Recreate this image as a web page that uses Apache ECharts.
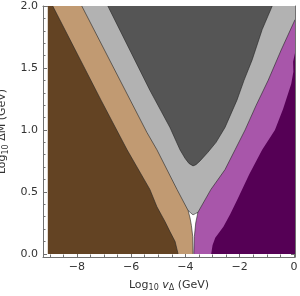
<!DOCTYPE html>
<html>
<head>
<meta charset="utf-8">
<script src="https://cdn.jsdelivr.net/npm/echarts@6/dist/echarts.min.js"></script>
<style>html,body{margin:0;padding:0;background:#fff}#c{width:300px;height:296px}</style>
</head>
<body>
<div id="c"></div>
<script>
// ---- axis ranges & ticks ----
const xRange = [-9.25, 0.04];
const yRange = [-0.025, 2.0];
const regionX = [-9.07, 0.04];
const regionY = [0, 2];
const xMajorTicks = [-8, -6, -4, -2, 0];
const xMinorTicks = [-9, -8.5, -7.5, -7, -6.5, -5.5, -5, -4.5, -3.5, -3, -2.5, -1.5, -1, -0.5];
const yMajorTicks = [0, 0.5, 1, 1.5, 2];
const yMinorTicks = [0.1, 0.2, 0.3, 0.4, 0.6, 0.7, 0.8, 0.9, 1.1, 1.2, 1.3, 1.4, 1.6, 1.7, 1.8, 1.9];

// ---- region boundaries (log10 v, log10 dM) ----
// brown / tan boundary (top -> bottom)
const brownEdge = [[-8.89, 2.0], [-7.11, 1.24], [-6.15, 0.84], [-5.31, 0.52], [-5.05, 0.38], [-4.75, 0.26], [-4.57, 0.18], [-4.38, 0.10], [-4.27, 0.0]];
// tan right boundary (top -> bottom)
const tanEdge = [[-7.82, 2.0], [-5.42, 0.98], [-5.05, 0.84], [-4.31, 0.52], [-3.90, 0.35], [-3.83, 0.29], [-3.78, 0.23], [-3.73, 0.14], [-3.72, 0.0]];
// bottom cusp of the light gray band (left -> right)
const grayCusp = [[-3.90, 0.35], [-3.80, 0.33], [-3.72, 0.315], [-3.63, 0.325], [-3.54, 0.335]];
// light purple left boundary (top right -> bottom)
const purpleEdge = [[0.04, 1.89], [0.0, 1.87], [-0.47, 1.645], [-0.95, 1.40], [-1.39, 1.20], [-1.80, 1.00], [-2.17, 0.84], [-2.54, 0.68], [-3.06, 0.52], [-3.54, 0.335], [-3.62, 0.25], [-3.67, 0.14], [-3.69, 0.0]];
// dark purple left boundary (top right -> bottom)
const darkPurpleEdge = [[0.04, 1.62], [-0.03, 1.55], [-0.02, 1.47], [-0.10, 1.37], [-0.40, 1.17], [-0.70, 1.0], [-1.17, 0.84], [-1.65, 0.64], [-2.08, 0.44], [-2.35, 0.32], [-2.60, 0.22], [-2.90, 0.13], [-3.00, 0.07], [-3.05, 0.0]];
// dark gray V (left arm top -> tip -> right arm top)
const darkGrayEdge = [[-6.86, 2.0], [-5.31, 1.32], [-4.57, 1.02], [-4.20, 0.84], [-4.01, 0.77], [-3.87, 0.73], [-3.72, 0.71], [-3.61, 0.72], [-3.46, 0.75], [-3.17, 0.82], [-2.87, 0.90], [-2.54, 1.02], [-2.10, 1.24], [-1.84, 1.40], [-1.54, 1.565], [-1.17, 1.81], [-0.80, 2.0]];

const colors = {
  brown: '#634323', tan: '#c19a72', gray: '#b2b2b2', darkGray: '#555555',
  lightPurple: '#a856aa', darkPurple: '#550055'
};
const FRAME = '#707070';
const EDGE = 'rgba(35,35,35,0.75)';

const X0 = regionX[0], X1 = regionX[1], Y0 = regionY[0], Y1 = regionY[1];

function poly(points, fill, z) {
  return {
    type: 'custom', coordinateSystem: 'cartesian2d', xAxisIndex: 0, yAxisIndex: 0,
    data: [0], silent: true, z: z, clip: true, animation: false,
    renderItem: function (params, api) {
      return { type: 'polygon', shape: { points: points.map(p => api.coord(p)) }, style: { fill: fill, stroke: null } };
    }
  };
}
function edge(points, z) {
  return {
    type: 'custom', coordinateSystem: 'cartesian2d', xAxisIndex: 0, yAxisIndex: 0,
    data: [0], silent: true, z: z, clip: true, animation: false,
    renderItem: function (params, api) {
      return { type: 'polyline', shape: { points: points.map(p => api.coord(p)) }, style: { fill: null, stroke: EDGE, lineWidth: 0.8 } };
    }
  };
}

const grayPoly = [[X0, Y1], [X1, Y1], [X1, 0.5]].concat(grayCusp.slice().reverse()).concat([[X0, 0.5]]);
const tanPoly = [[X0, Y1]].concat(tanEdge).concat([[X0, Y0]]);
const brownPoly = [[X0, Y1]].concat(brownEdge).concat([[X0, Y0]]);
const lightPurplePoly = purpleEdge.concat([[X1, Y0]]);
const darkPurplePoly = darkPurpleEdge.concat([[X1, Y0]]);
const darkGrayPoly = darkGrayEdge.slice();

const fmtX = v => (v < 0 ? '\u2212' + Math.abs(v) : String(v));
const fmtY = v => v.toFixed(1);
const labelStyle = { color: '#333', fontSize: 11, fontFamily: 'DejaVu Sans' };

function xAx(pos, majors, showLabel, len, showLine) {
  return {
    type: 'value', position: pos, min: xRange[0], max: xRange[1],
    axisLine: { show: showLine, onZero: false, lineStyle: { color: FRAME, width: 1 } },
    axisTick: { show: true, inside: true, length: len, customValues: majors, lineStyle: { color: FRAME, width: 1 } },
    axisLabel: Object.assign({ show: showLabel, customValues: majors, formatter: fmtX, margin: 5 }, labelStyle),
    splitLine: { show: false }, minorTick: { show: false }
  };
}
function yAx(pos, majors, showLabel, len, showLine) {
  return {
    type: 'value', position: pos, min: yRange[0], max: yRange[1],
    axisLine: { show: showLine, onZero: false, lineStyle: { color: FRAME, width: 1 } },
    axisTick: { show: true, inside: true, length: len, customValues: majors, lineStyle: { color: FRAME, width: 1 } },
    axisLabel: Object.assign({ show: showLabel, customValues: majors, formatter: fmtY, margin: 5 }, labelStyle),
    splitLine: { show: false }, minorTick: { show: false }
  };
}

const xMain = xAx('bottom', xMajorTicks, true, 4, true);
xMain.name = '{a|Log}{s|10}{a| }{i|v}{s|\u0394}{a| (GeV)}';
xMain.nameLocation = 'middle';
xMain.nameGap = 20;
xMain.nameTextStyle = {
  color: '#333', fontFamily: 'DejaVu Sans',
  rich: {
    a: { fontSize: 11, fontFamily: 'DejaVu Sans', color: '#333', lineHeight: 14 },
    i: { fontSize: 11, fontFamily: 'DejaVu Sans', fontStyle: 'italic', color: '#333', lineHeight: 14 },
    s: { fontSize: 8, fontFamily: 'DejaVu Sans', color: '#333', verticalAlign: 'bottom', lineHeight: 14, padding: [6, 0, 0, 0] }
  }
};
const yMain = yAx('left', yMajorTicks, true, 4, true);
yMain.name = '{a|Log}{s|10}{a| \u0394M (GeV)}';
yMain.nameLocation = 'middle';
yMain.nameGap = 27;
yMain.nameTextStyle = {
  color: '#333', fontFamily: 'DejaVu Sans',
  rich: {
    a: { fontSize: 11, fontFamily: 'DejaVu Sans', color: '#333', lineHeight: 14 },
    s: { fontSize: 8, fontFamily: 'DejaVu Sans', color: '#333', verticalAlign: 'bottom', lineHeight: 14, padding: [6, 0, 0, 0] }
  }
};

const chart = echarts.init(document.getElementById('c'), null, { renderer: 'canvas' });
chart.setOption({
  animation: false,
  backgroundColor: '#ffffff',
  grid: { left: 43, right: 5, top: 6, bottom: 39, containLabel: false, outerBoundsMode: 'none' },
  xAxis: [
    xMain,
    xAx('bottom', xMinorTicks, false, 2.5, false),
    xAx('top', xMajorTicks, false, 4, true),
    xAx('top', xMinorTicks, false, 2.5, false)
  ],
  yAxis: [
    yMain,
    yAx('left', yMinorTicks, false, 2.5, false),
    yAx('right', yMajorTicks, false, 4, true),
    yAx('right', yMinorTicks, false, 2.5, false)
  ],
  series: [
    poly(grayPoly, colors.gray, 1),
    poly(darkGrayPoly, colors.darkGray, 2),
    poly(tanPoly, colors.tan, 3),
    poly(brownPoly, colors.brown, 4),
    poly(lightPurplePoly, colors.lightPurple, 3),
    poly(darkPurplePoly, colors.darkPurple, 4),
    edge(brownEdge, 6),
    edge(tanEdge, 6),
    edge(purpleEdge, 6),
    edge(darkGrayEdge, 6),
    edge(grayCusp, 6)
  ]
});
</script>
</body>
</html>
